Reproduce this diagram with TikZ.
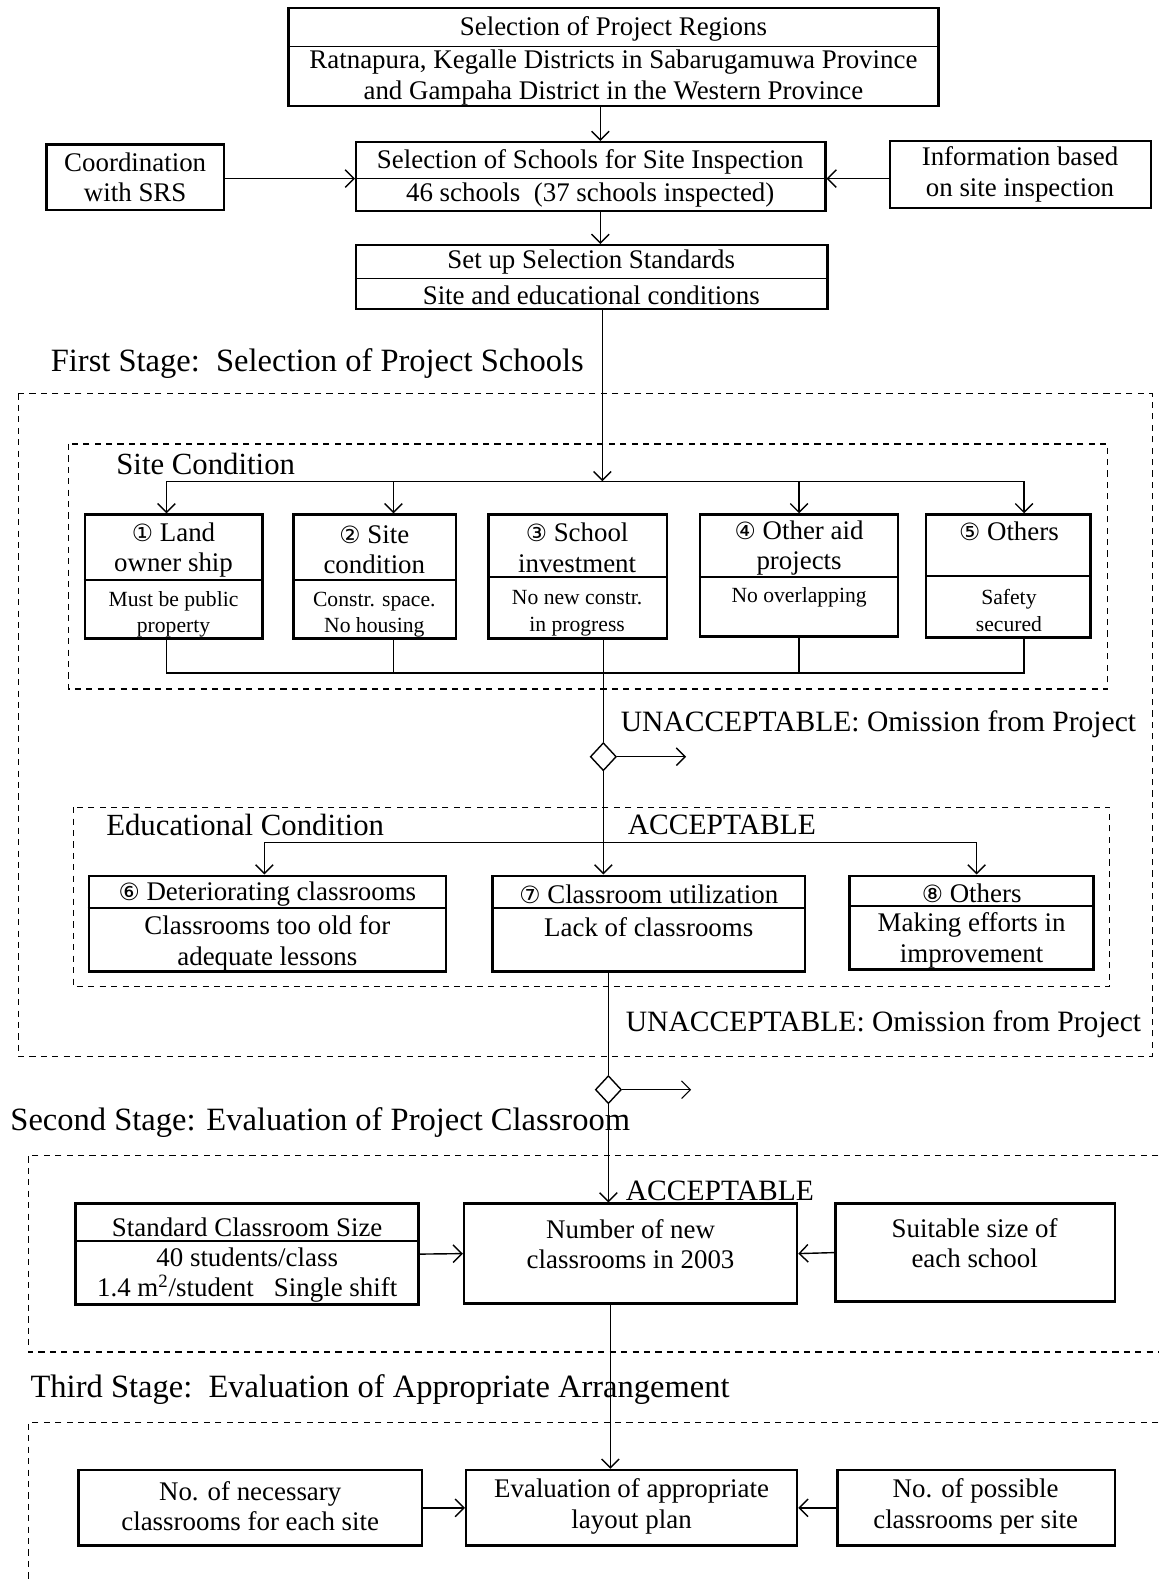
\documentclass[tikz,border=0pt]{standalone}
\usepackage{fontspec}
\setmainfont{Liberation Serif}
\newfontfamily\circfont{DejaVu Sans}
\usetikzlibrary{arrows.meta,shapes.geometric,fit}

\newcommand{\cnum}[1]{{\circfont\fontsize{13.5}{15}\selectfont #1}}

\begin{document}
\begin{tikzpicture}[
    x=0.020174cm, y=-0.020174cm,
    box/.style={draw, line width=1.4pt, inner sep=0pt},
    divider/.style={line width=0.9pt},
    txt/.style={inner sep=0pt, align=center, font=\fontsize{15.3}{17.3}\selectfont},
    smalltxt/.style={inner sep=0pt, align=center, font=\fontsize{12.3}{15}\selectfont},
    label/.style={inner sep=0pt, anchor=west, font=\fontsize{16.8}{19}\selectfont},
    stage/.style={inner sep=0pt, anchor=west, font=\fontsize{18.5}{21}\selectfont},
    area/.style={draw, line width=0.7pt, dash pattern=on 3.5pt off 3pt},
    link/.style={line width=0.8pt},
    arrow/.style={link, -{Straight Barb[length=5pt,width=10pt]}},
    check/.style={diamond, draw, line width=0.8pt, inner sep=0pt, minimum width=0.52cm, minimum height=0.56cm}
]
\useasboundingbox (0,0) rectangle (1148,1568);

% project regions
\node[box, fit={(286,8) (930,105)}] (regions) {};
\draw[divider] (regions.west |- 0,46) -- (regions.east |- 0,46);
\node[txt] (regionstitle) at (608,29) {Selection of Project Regions};
\node[txt] (regionsbody) at (608,77) {Ratnapura, Kegalle Districts in Sabarugamuwa Province\\and Gampaha District in the Western Province};

\node[box, fit={(46,143) (222,208)}] (srs) {};
\node[txt] (srstext) at (134,176) {Coordination\\with SRS};

\node[box, fit={(353,141) (818,209)}] (schools) {};
\draw[divider] (schools.west |- 0,177) -- (schools.east |- 0,177);
\node[txt] (schoolstitle) at (585,160) {Selection of Schools for Site Inspection};
\node[txt] (schoolsbody) at (585,193) {46 schools~~(37 schools inspected)};

\node[box, fit={(882,140) (1141,206)}] (info) {};
\node[txt] (infotext) at (1011,173) {Information based\\on site inspection};

\node[box, fit={(353,243) (820,306)}] (standards) {};
\draw[divider] (standards.west |- 0,276) -- (standards.east |- 0,276);
\node[txt] (standardstitle) at (586,260) {Set up Selection Standards};
\node[txt] (standardsbody) at (586,293) {Site and educational conditions};

\coordinate (spine) at (595,0);
\draw[arrow] (regions.south -| spine) -- (schools.north -| spine);
\draw[arrow] (schools.south -| spine) -- (standards.north -| spine);
\draw[arrow] (srs.east |- 0,177) -- (schools.west |- 0,177);
\draw[arrow] (info.west |- 0,177) -- (schools.east |- 0,177);

% first stage
\node[stage] (stage1) at (50,360) {First Stage:~~Selection of Project Schools};
\draw[area] (18,390) rectangle (1142,1047);
\draw[area] (68,440) rectangle (1098,683);
\node[stage, font=\fontsize{17.5}{20}\selectfont] (sitelabel) at (115,460) {Site Condition};

\coordinate (sitebus) at (597,477);
\coordinate (sb1) at (165,477);
\coordinate (sb2) at (390,477);
\coordinate (sb3) at (792,477);
\coordinate (sb4) at (1015,477);
\coordinate (cbus) at (0,667);

\node[box, fit={(84,510) (260,633)}] (land) {};
\draw[divider] (land.west |- 0,575) -- (land.east |- 0,575);
\node[txt] (landtitle) at (172,545) {\cnum{①} Land\\owner ship};
\node[smalltxt] (landbody) at (172,609) {Must be public\\property};

\node[box, fit={(291,510) (452,633)}] (site) {};
\draw[divider] (site.west |- 0,575) -- (site.east |- 0,575);
\node[txt] (sitetitle) at (371,545) {\cnum{②} Site\\condition};
\node[smalltxt] (sitebody) at (371,609) {Constr. space.\\No housing};

\node[box, fit={(484,510) (661,633)}] (invest) {};
\draw[divider] (invest.west |- 0,572) -- (invest.east |- 0,572);
\node[txt] (investtitle) at (572,543) {\cnum{③} School\\investment};
\node[smalltxt] (investbody) at (572,608) {No new constr.\\in progress};

\node[box, fit={(694,510) (890,631)}] (aid) {};
\draw[divider] (aid.west |- 0,572) -- (aid.east |- 0,572);
\node[txt] (aidtitle) at (792,543) {\cnum{④} Other aid\\projects};
\node[smalltxt] (aidbody) at (792,592) {No overlapping};

\node[box, fit={(918,510) (1081,632)}] (others) {};
\draw[divider] (others.west |- 0,571) -- (others.east |- 0,571);
\node[txt] (otherstitle) at (1000,527) {\cnum{⑤} Others};
\node[smalltxt] (othersbody) at (1000,605) {Safety\\secured};

\draw[arrow] (standards.south -| sitebus) -- (sitebus);
\draw[link] (sb1) -- (sb4);
\foreach \b/\n in {sb1/land, sb2/site, sb3/aid, sb4/others}
    \draw[arrow] (\b) -- (\b |- \n.north);
\draw[link] (land.south -| sb1) -- (sb1 |- cbus) -- (sb4 |- cbus) -- (others.south -| sb4);
\draw[link] (site.south -| sb2) -- (sb2 |- cbus);
\draw[link] (aid.south -| sb3) -- (sb3 |- cbus);

\node[check] (check1) at (598,750) {};
\coordinate (out1) at (680,750);
\draw[link] (invest.south -| check1) -- (check1.north);
\draw[arrow] (check1.east) -- (out1);
\node[label] (omit1) at (615,718) {UNACCEPTABLE: Omission from Project};

% educational condition
\draw[area] (73,800) rectangle (1100,978);
\node[stage, font=\fontsize{17.5}{20}\selectfont] (edulabel) at (105,818) {Educational Condition};
\node[label] (accept1) at (622,818) {ACCEPTABLE};

\coordinate (eb1) at (262,835);
\coordinate (eb2) at (968,835);

\node[box, fit={(88,868) (442,963)}] (worn) {};
\draw[divider] (worn.west |- 0,900) -- (worn.east |- 0,900);
\node[txt] (worntitle) at (265,886) {\cnum{⑥} Deteriorating classrooms};
\node[txt] (wornbody) at (265,935) {Classrooms too old for\\adequate lessons};

\node[box, fit={(488,868) (798,963)}] (util) {};
\draw[divider] (util.west |- 0,900) -- (util.east |- 0,900);
\node[txt] (utiltitle) at (643,886) {\cnum{⑦} Classroom utilization};
\node[txt] (utilbody) at (643,919) {Lack of classrooms};

\node[box, fit={(842,868) (1084,961)}] (effort) {};
\draw[divider] (effort.west |- 0,898) -- (effort.east |- 0,898);
\node[txt] (efforttitle) at (963,885) {\cnum{⑧} Others};
\node[txt] (effortbody) at (963,932) {Making efforts in\\improvement};

\draw[arrow] (check1.south) -- (util.north -| check1);
\draw[link] (eb1) -- (eb2);
\draw[arrow] (eb1) -- (eb1 |- worn.north);
\draw[arrow] (eb2) -- (eb2 |- effort.north);

\node[check] (check2) at (603,1080) {};
\coordinate (out2) at (685,1080);
\draw[link] (util.south -| check2) -- (check2.north);
\draw[arrow, line width=0.6pt] (check2.east) -- (out2);
\node[label] (omit2) at (620,1015) {UNACCEPTABLE: Omission from Project};

% second stage
\node[stage] (stage2) at (10,1113) {Second Stage: Evaluation of Project Classroom};
\draw[area] (1148,1145) -- (28,1145) -- (28,1340) -- (1148,1340);
\node[label] (accept2) at (620,1180) {ACCEPTABLE};

\node[box, fit={(75,1193) (415,1293)}] (size) {};
\draw[divider] (size.west |- 0,1230) -- (size.east |- 0,1230);
\node[txt] (sizetitle) at (245,1216) {Standard Classroom Size};
\node[txt] (sizebody) at (245,1264) {40 students/class\\1.4 m\textsuperscript{2}/student~~~Single shift};

\node[box, fit={(460,1193) (790,1292)}] (newrooms) {};
\node[txt] (newroomstext) at (625,1233) {Number of new\\classrooms in 2003};

\node[box, fit={(828,1193) (1105,1290)}] (suitable) {};
\node[txt] (suitabletext) at (966,1232) {Suitable size of\\each school};

\draw[arrow] (check2.south) -- (newrooms.north -| check2);
\draw[arrow] (size.east) -- (newrooms.west);
\draw[arrow] (suitable.west) -- (newrooms.east);

% third stage
\node[stage] (stage3) at (30,1377) {Third Stage:~~Evaluation of Appropriate Arrangement};
\draw[area] (1148,1410) -- (28,1410) -- (28,1568);

\node[box, fit={(78,1457) (418,1532)}] (need) {};
\node[txt] (needtext) at (248,1493) {No. of necessary\\classrooms for each site};

\node[box, fit={(462,1457) (790,1532)}] (layout) {};
\node[txt] (layouttext) at (626,1493) {Evaluation of appropriate\\layout plan};

\node[box, fit={(830,1457) (1105,1532)}] (possible) {};
\node[txt] (possibletext) at (967,1493) {No. of possible\\classrooms per site};

\draw[arrow] (newrooms.south -| 605,0) -- (layout.north -| 605,0);
\draw[arrow] (need.east) -- (layout.west);
\draw[arrow] (possible.west) -- (layout.east);

\end{tikzpicture}
\end{document}
